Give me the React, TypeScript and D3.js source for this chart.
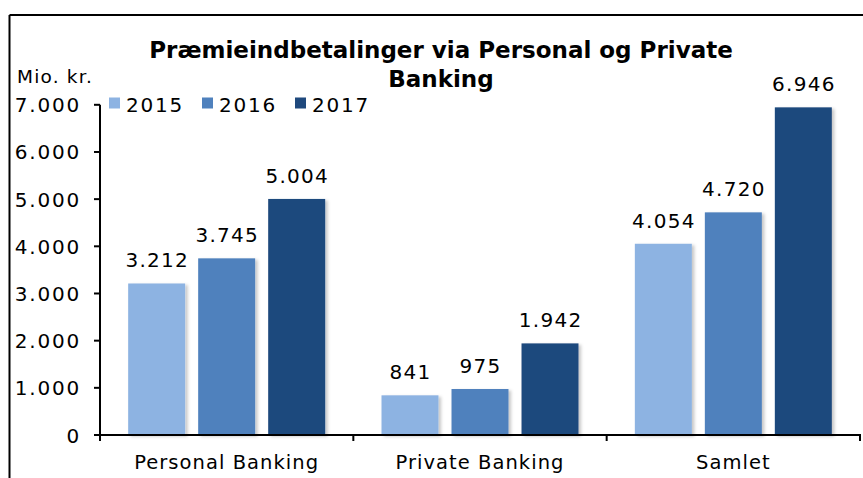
import React from "react";
import * as d3 from "d3";

const categories = ["Personal Banking", "Private Banking", "Samlet"];
const seriesNames = ["2015", "2016", "2017"];
const values2015 = [3212, 841, 4054];
const values2016 = [3745, 975, 4720];
const values2017 = [5004, 1942, 6946];
const seriesColors = ["#8DB3E2", "#4F81BD", "#1F497D"];
const yTicks = [0, 1000, 2000, 3000, 4000, 5000, 6000, 7000];
const titleLines = ["Præmieindbetalinger via Personal og Private", "Banking"];
const unitLabel = "Mio. kr.";

const W = 863;
const H = 478;
const FONT = "'DejaVu Sans', sans-serif";

export default function App() {
  const series = [values2015, values2016, values2017];
  const x0 = d3.scaleBand<string>().domain(categories).range([100, 860]).paddingInner(0).paddingOuter(0);
  const x1 = d3
    .scaleBand<string>()
    .domain(seriesNames)
    .range([0, x0.bandwidth()])
    .paddingInner(0.186)
    .paddingOuter(0.4025);
  const y = d3.scaleLinear().domain([0, 7000]).range([435, 104.8]);
  const loc = d3.formatLocale({ decimal: ",", thousands: ".", grouping: [3], currency: ["", ""] });
  const fmt = loc.format(",d");
  const catTicks = [...categories.map((c) => x0(c)!), 860];

  return (
    <svg width={W} height={H} style={{ position: "absolute", left: 0, top: 0 }} fontFamily={FONT}>
      <defs>
        <filter id="sh" x="-20%" y="-20%" width="150%" height="130%">
          <feDropShadow dx="2.5" dy="1.5" stdDeviation="1.5" floodColor="#000" floodOpacity="0.22" />
        </filter>
      </defs>
      <rect x={0} y={0} width={W} height={H} fill="#fff" />
      {/* frame */}
      <line x1={9.5} y1={15} x2={W} y2={15} stroke="#000" strokeWidth={2} />
      <line x1={9.5} y1={15} x2={9.5} y2={H} stroke="#000" strokeWidth={2} />

      {/* title */}
      {titleLines.map((t, i) => (
        <text key={i} x={441} y={58 + i * 29} textAnchor="middle" fontWeight="bold" fontSize={23} fill="#000">
          {t}
        </text>
      ))}
      <text x={17} y={83} fontSize={18.5} fill="#000" letterSpacing={1.2}>
        {unitLabel}
      </text>

      {/* legend */}
      {seriesNames.map((s, i) => (
        <g key={s}>
          <rect x={109 + i * 93} y={97.5} width={11} height={11} fill={seriesColors[i]} />
          <text x={126 + i * 93} y={111.5} fontSize={20} fill="#000" letterSpacing={1.8}>
            {s}
          </text>
        </g>
      ))}

      {/* bars */}
      {categories.map((c, ci) => (
        <g key={c} transform={`translate(${x0(c)},0)`}>
          {seriesNames.map((s, si) => {
            const v = series[si][ci];
            return (
              <g key={s}>
                <rect
                  x={x1(s)}
                  y={y(v)}
                  width={x1.bandwidth()}
                  height={y(0) - y(v)}
                  fill={seriesColors[si]}
                  filter="url(#sh)"
                />
                <text
                  x={x1(s)! + x1.bandwidth() / 2 + 0.6}
                  y={y(v) - 16}
                  textAnchor="middle"
                  fontSize={20}
                  fill="#000"
                  letterSpacing={1.3}
                >
                  {fmt(v)}
                </text>
              </g>
            );
          })}
        </g>
      ))}

      {/* y axis */}
      <line x1={100} y1={y(7000)} x2={100} y2={y(0) + 1} stroke="#000" strokeWidth={2} />
      {yTicks.map((t) => (
        <g key={t}>
          <line x1={94} x2={100} y1={y(t)} y2={y(t)} stroke="#000" strokeWidth={2} />
          <text x={81} y={y(t) + 7.5} textAnchor="end" fontSize={20} fill="#000" letterSpacing={1.8}>
            {fmt(t)}
          </text>
        </g>
      ))}

      {/* x axis */}
      <line x1={99} y1={435} x2={861} y2={435} stroke="#000" strokeWidth={2} />
      {catTicks.map((t, i) => (
        <line key={i} x1={t} x2={t} y1={435} y2={441} stroke="#000" strokeWidth={2} />
      ))}
      {categories.map((c) => (
        <text
          key={c}
          x={x0(c)! + x0.bandwidth() / 2}
          y={469}
          textAnchor="middle"
          fontSize={19.5}
          fill="#000"
          letterSpacing={1.05}
        >
          {c}
        </text>
      ))}
    </svg>
  );
}
